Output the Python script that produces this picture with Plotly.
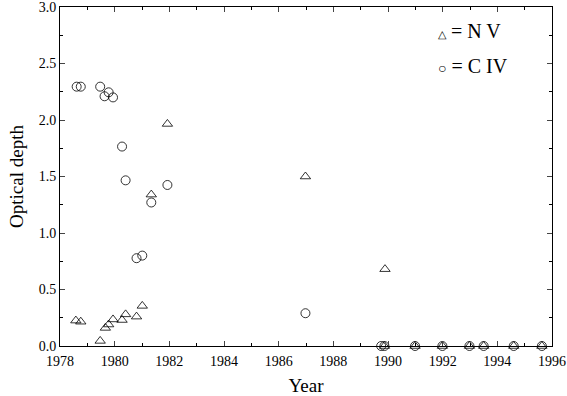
import plotly.graph_objects as go

# N V (triangles)
nv_year = [1978.58, 1978.76, 1979.47, 1979.66, 1979.78, 1979.94, 1980.27, 1980.40,
           1980.80, 1981.01, 1981.34, 1981.93, 1986.98, 1989.89,
           1989.87, 1990.99, 1991.99, 1992.98, 1993.50, 1994.60, 1995.63]
nv_depth = [0.225, 0.215, 0.045, 0.16, 0.19, 0.235, 0.23, 0.28,
            0.26, 0.355, 1.34, 1.965, 1.50, 0.68,
            0.0, 0.0, 0.0, 0.0, 0.0, 0.0, 0.0]

# C IV (circles)
civ_year = [1978.61, 1978.76, 1979.47, 1979.63, 1979.78, 1979.94, 1980.27, 1980.40,
            1980.80, 1981.01, 1981.34, 1981.93, 1986.98,
            1989.75, 1989.87, 1990.99, 1991.99, 1992.98, 1993.50, 1994.60, 1995.63]
civ_depth = [2.295, 2.295, 2.295, 2.21, 2.245, 2.20, 1.765, 1.466,
             0.777, 0.80, 1.27, 1.425, 0.29,
             0.0, 0.0, 0.0, 0.0, 0.0, 0.0, 0.0, 0.0]

legend_labels = ['<span style="font-size:11px">\u25b3</span> = N V',
                 '<span style="font-size:14px">\u25cb</span> = C IV']

serif = "Liberation Serif, Times New Roman, serif"

fig = go.Figure()
fig.add_trace(go.Scatter(x=nv_year, y=nv_depth, mode='markers', name='N V',
                         cliponaxis=False,
                         marker=dict(symbol='triangle-up-open', size=9, color='black',
                                     line=dict(width=0.8, color='black'))))
fig.add_trace(go.Scatter(x=civ_year, y=civ_depth, mode='markers', name='C IV',
                         cliponaxis=False,
                         marker=dict(symbol='circle-open', size=9, color='black',
                                     line=dict(width=0.8, color='black'))))

fig.update_xaxes(range=[1978, 1996], dtick=2, tick0=1978, ticks='inside', ticklen=5,
                 showline=True, linecolor='black', linewidth=1, mirror='ticks',
                 showgrid=False, zeroline=False, ticklabeloverflow='allow',
                 ticklabelstandoff=2, automargin=False,
                 minor=dict(ticks='inside', dtick=1, ticklen=3, tickcolor='black'),
                 tickfont=dict(family=serif, size=14, color='black'),
                 title=dict(text='Year', standoff=14,
                            font=dict(family=serif, size=19, color='black')))
fig.update_yaxes(range=[0, 3], dtick=0.5, tickformat='.1f', ticks='inside', ticklen=5,
                 showline=True, linecolor='black', linewidth=1, mirror='ticks',
                 showgrid=False, zeroline=False, ticklabeloverflow='allow',
                 automargin=False,
                 minor=dict(ticks='inside', dtick=0.25, ticklen=3, tickcolor='black'),
                 tickfont=dict(family=serif, size=14, color='black'),
                 title=dict(text='Optical depth', standoff=10,
                            font=dict(family=serif, size=19, color='black')))

for i, txt in enumerate(legend_labels):
    fig.add_annotation(text=txt, xref='paper', yref='paper', x=0.765, y=0.93 - i * 0.103,
                       xanchor='left', yanchor='middle', showarrow=False,
                       font=dict(family=serif, size=20, color='black'))

fig.update_layout(width=567, height=396, margin=dict(l=60, r=15, t=7, b=50),
                  plot_bgcolor='white', paper_bgcolor='white',
                  showlegend=False)

fig.write_html("out.html", config={'displayModeBar': False},
               post_script="document.body.style.margin='0';")
